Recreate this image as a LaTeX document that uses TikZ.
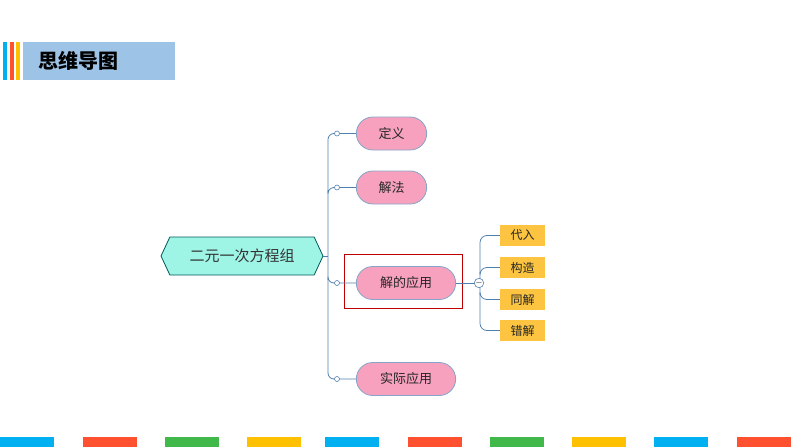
\documentclass[tikz,border=0pt]{standalone}
\usepackage{fontspec}
\newfontfamily\cjk{Noto Sans CJK SC}
\usetikzlibrary{shapes.misc,shapes.symbols}
\definecolor{lineblue}{HTML}{4F7FAF}
\definecolor{pinkf}{HTML}{F7A1BF}
\definecolor{tealf}{HTML}{9EF5E6}
\definecolor{yel}{HTML}{FCC440}
\definecolor{bblue}{HTML}{00B0F0}
\definecolor{bred}{HTML}{FF5030}
\definecolor{bgreen}{HTML}{40B84A}
\definecolor{byel}{HTML}{FFC000}
\definecolor{hdr}{HTML}{9DC3E6}
\tikzset{
 pinkbox/.style={rounded rectangle, fill=pinkf, draw=lineblue!70, line width=0.8pt, minimum height=33pt, font=\cjk\fontsize{13}{13}\selectfont, text=black!85},
 yelbox/.style={rectangle, fill=yel, minimum width=45pt, minimum height=21pt, font=\cjk\fontsize{12}{12}\selectfont, text=black!85},
 conn/.style={draw=lineblue, line width=0.8pt},
 dot/.style={circle, draw=lineblue, fill=white, inner sep=0pt, minimum size=5pt, line width=0.6pt},
}
\begin{document}
\begin{tikzpicture}[x=1pt,y=-1pt]
\useasboundingbox (0,0) rectangle (794,447);
% header
\fill[bblue] (3,42) rectangle (7,80);
\fill[bred] (10,42) rectangle (14,80);
\fill[byel] (16,42) rectangle (20,80);
\fill[hdr] (23,42) rectangle (175,80);
\node[font=\cjk\bfseries\fontsize{20}{20}\selectfont, anchor=west] (title) at (35,61) {思维导图};
% bottom bars
\foreach \x/\c in {0/bblue,83/bred,165/bgreen,247/byel,325/bblue,408/bred,490/bgreen,572/byel,654/bblue,737/bred}
  \fill[\c] (\x,437) rectangle ++(54,10);
% central
\node[signal, signal to=west and east, signal pointer angle=130, fill=tealf, draw=teal!70!black, line width=0.8pt, minimum width=162pt, minimum height=38pt, font=\cjk\fontsize{15}{15}\selectfont, text=black!80] (root) at (242,256) {二元一次方程组};
\node[pinkbox, minimum width=77pt] (a) at (391.5,133.5) {定义};
\node[pinkbox, minimum width=77pt] (b) at (391.5,187.5) {解法};
\node[pinkbox, minimum width=106pt] (c) at (406,283) {解的应用};
\node[pinkbox, minimum width=106pt] (d) at (406,379) {实际应用};
\node[draw=red!75!black, line width=0.8pt, minimum width=118pt, minimum height=54pt] (hl) at (403,281) {};
% spine
\coordinate (sp) at (328,256);
\draw[conn] (root.east) -- (sp);
\draw[conn, rounded corners=6pt] (a.west) -- (328,133.5) -- (328,379) -- (d.west);
\draw[conn, rounded corners=6pt] (b.west) -- (328,187.5) -- (328,190);
\draw[conn, rounded corners=6pt] (c.west) -- (328,283) -- (328,280);
\foreach \n/\y in {a/133.5,b/187.5,c/283,d/379} \node[dot] (d\n) at (337,\y) {};
% sub
\node[yelbox] (s1) at (522.5,235.5) {代入};
\node[yelbox] (s2) at (522.5,267.5) {构造};
\node[yelbox] (s3) at (522.5,299.5) {同解};
\node[yelbox] (s4) at (522.5,330.5) {错解};
\coordinate (m) at (479,283);
\draw[conn] (c.east) -- (m);
\draw[conn, rounded corners=7pt] (s1.west) -- (480,235.5) -- (480,330.5) -- (s4.west);
\draw[conn, rounded corners=7pt] (s2.west) -- (480,267.5) -- (480,272);
\draw[conn, rounded corners=7pt] (s3.west) -- (480,299.5) -- (480,295);
\node[circle, draw=lineblue, fill=white, inner sep=0pt, minimum size=9pt, line width=0.6pt, font=\fontsize{9}{9}\selectfont] (mc) at (m) {$-$};
\end{tikzpicture}
\end{document}
